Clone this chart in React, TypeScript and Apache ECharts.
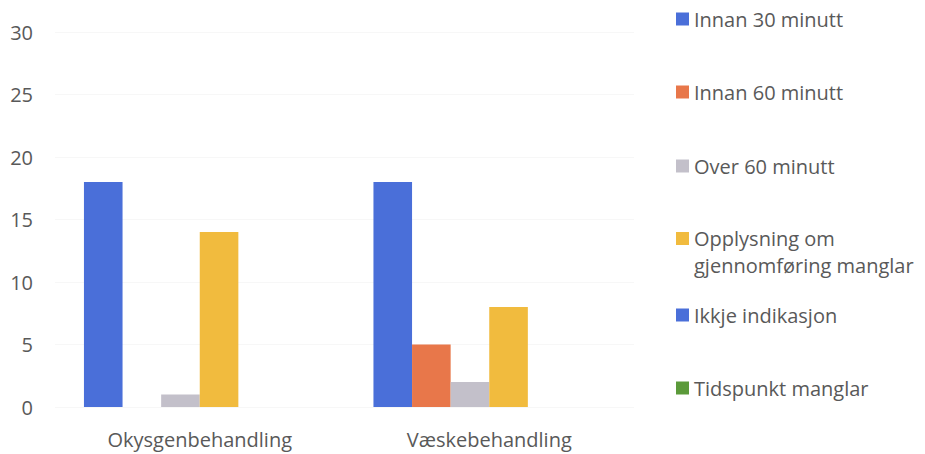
import React, { useEffect, useRef } from "react";
import * as echarts from "echarts";

const categories = ["Okysgenbehandling", "Væskebehandling"];
const seriesNames = [
  "Innan 30 minutt",
  "Innan 60 minutt",
  "Over 60 minutt",
  "Opplysning om gjennomføring manglar",
  "Ikkje indikasjon",
  "Tidspunkt manglar",
];
const innan30 = [18, 18];
const innan60 = [0, 5];
const over60 = [1, 2];
const opplysningManglar = [14, 8];
const ikkjeIndikasjon = [0, 0];
const tidspunktManglar = [0, 0];
const yTicks = [0, 5, 10, 15, 20, 25, 30];

const colors = ["#4a6fd9", "#e8774a", "#c3c0ca", "#f1bb3e", "#4a6fd9", "#5b9a3a"];
const legendCenters = [19, 92, 166, 238, 315, 388];

export default function App() {
  const ref = useRef<HTMLDivElement>(null);
  useEffect(() => {
    if (!ref.current) return;
    const chart = echarts.init(ref.current, undefined, { renderer: "svg" });
    const values = [innan30, innan60, over60, opplysningManglar, ikkjeIndikasjon, tidspunktManglar];
    const font = "Open Sans";
    const textColor = "#595959";
    const legends = seriesNames.map((name, i) => {
      const twoLine = name.startsWith("Opplysning");
      const lineH = twoLine ? 27 : 24;
      return {
        data: [name],
        left: 676,
        top: legendCenters[i] - lineH / 2,
        orient: "vertical",
        padding: 0,
        itemWidth: 13,
        itemHeight: twoLine ? 39 : 13,
        icon: twoLine
          ? "path://M0,0h10v10h-10zM0,29.95h0.05v0.05h-0.05z"
          : "rect",
        selectedMode: false,
        itemGap: 6,
        formatter: (n: string) =>
          n.startsWith("Opplysning") ? "Opplysning om\ngjennomføring manglar" : n,
        textStyle: { fontFamily: font, fontSize: 20, color: textColor, lineHeight: lineH, padding: [0, 0, 0, 0] },
      };
    });
    chart.setOption({
      animation: false,
      textStyle: { fontFamily: font },
      grid: { left: 55, right: 291, top: 32, bottom: 47, containLabel: false },
      legend: legends,
      xAxis: {
        type: "category",
        data: categories,
        axisLine: { show: false },
        axisTick: { show: false },
        axisLabel: { fontFamily: font, fontSize: 20, color: textColor, margin: 22 },
      },
      yAxis: {
        type: "value",
        min: yTicks[0],
        max: yTicks[yTicks.length - 1],
        interval: 5,
        axisLine: { show: false },
        axisTick: { show: false },
        axisLabel: { fontFamily: font, fontSize: 20, color: textColor, margin: 22 },
        splitLine: { lineStyle: { color: "#f7f7f7", width: 1 } },
      },
      series: seriesNames.map((name, i) => ({
        name,
        type: "bar",
        data: values[i],
        barGap: "0%",
        barCategoryGap: "20%",
        itemStyle: { color: colors[i] },
      })),
    });
    return () => chart.dispose();
  }, []);
  return (
    <div
      ref={ref}
      style={{ position: "fixed", left: 0, top: 0, width: 925, height: 454, background: "#fff" }}
    />
  );
}
